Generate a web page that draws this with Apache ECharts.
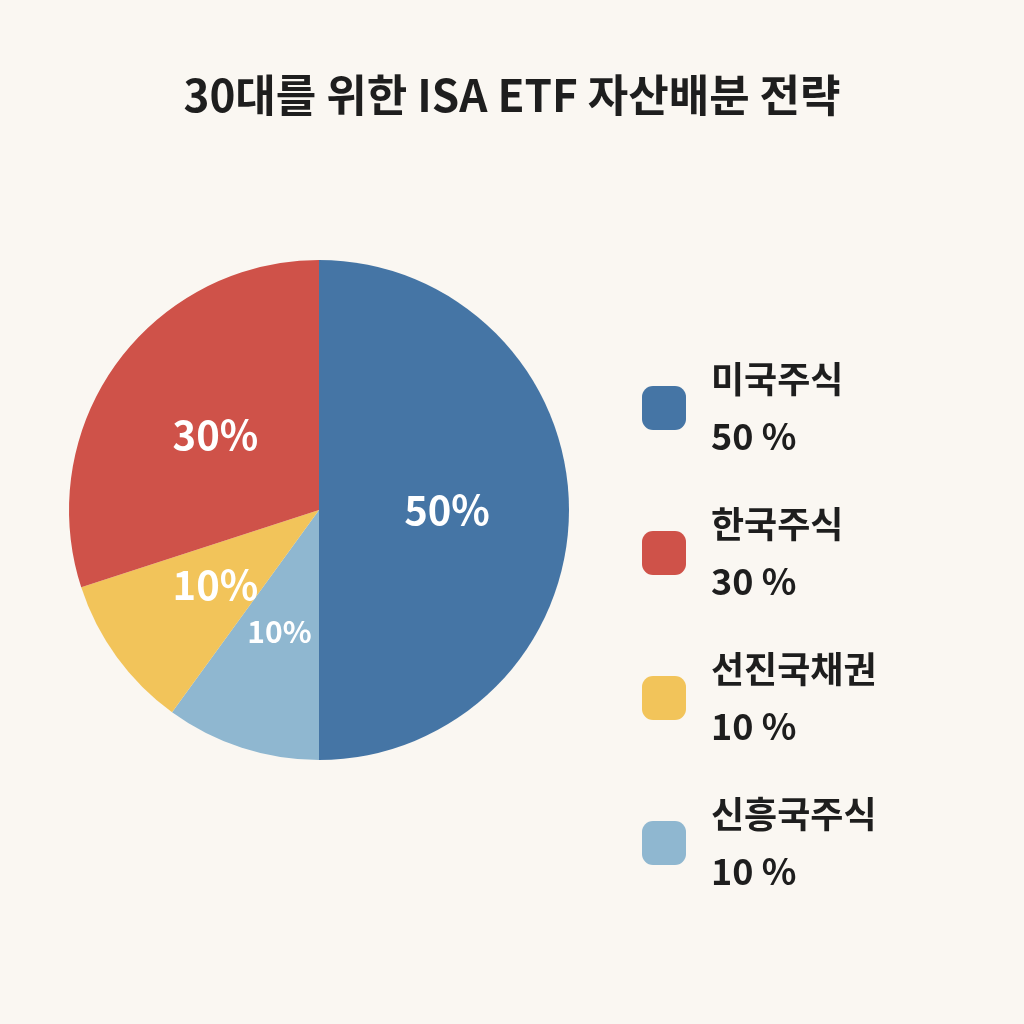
<!DOCTYPE html>
<html><head><meta charset="utf-8">
<script src="https://cdn.jsdelivr.net/npm/echarts@6/dist/echarts.min.js"></script>
<style>html,body{margin:0;background:#faf7f2}#c{width:1024px;height:1024px}</style>
</head><body><div id="c"></div>
<script>
var names = ['미국주식', '신흥국주식', '선진국채권', '한국주식'];
var values = [50, 10, 10, 30];
var colors = ['#4575a5', '#8fb7d0', '#f2c45a', '#cf5249'];
var legendOrder = ['미국주식', '한국주식', '선진국채권', '신흥국주식'];

var data = [];
for (var i = 0; i < names.length; i++) {
	data.push({name: names[i], value: values[i], itemStyle: {color: colors[i]},
		label: {fontSize: i == 1 ? 30 : 40}});
}
var chart = echarts.init(document.getElementById('c'));
chart.setOption({
	backgroundColor: '#faf7f2',
	textStyle: {fontFamily: 'Noto Sans CJK KR'},
	title: {
		text: '30대를 위한 ISA ETF 자산배분 전략',
		left: 'center', top: 68,
		textStyle: {fontSize: 44, fontWeight: 'bold', color: '#1e1e1e', fontFamily: 'Noto Sans CJK KR'}
	},
	legend: {
		orient: 'vertical', left: 637, top: 346,
		data: legendOrder,
		itemWidth: 44, itemHeight: 44, itemGap: 31,
		icon: 'roundRect',
		formatter: function (n) {
			return n + '\n' + values[names.indexOf(n)] + ' %';
		},
		textStyle: {fontSize: 36, fontWeight: 'bold', color: '#1e1e1e', lineHeight: 57, padding: [0, 0, 0, 20],
			fontFamily: 'Noto Sans CJK KR'}
	},
	series: [{
		type: 'pie',
		center: [319, 510], radius: 250,
		startAngle: 90, clockwise: true,
		data: data,
		label: {position: 'inside', formatter: '{c}%', color: '#fff', fontWeight: 'bold', fontFamily: 'Noto Sans CJK KR'},
		labelLine: {show: false},
		emphasis: {disabled: true}
	}]
});
</script></body></html>
